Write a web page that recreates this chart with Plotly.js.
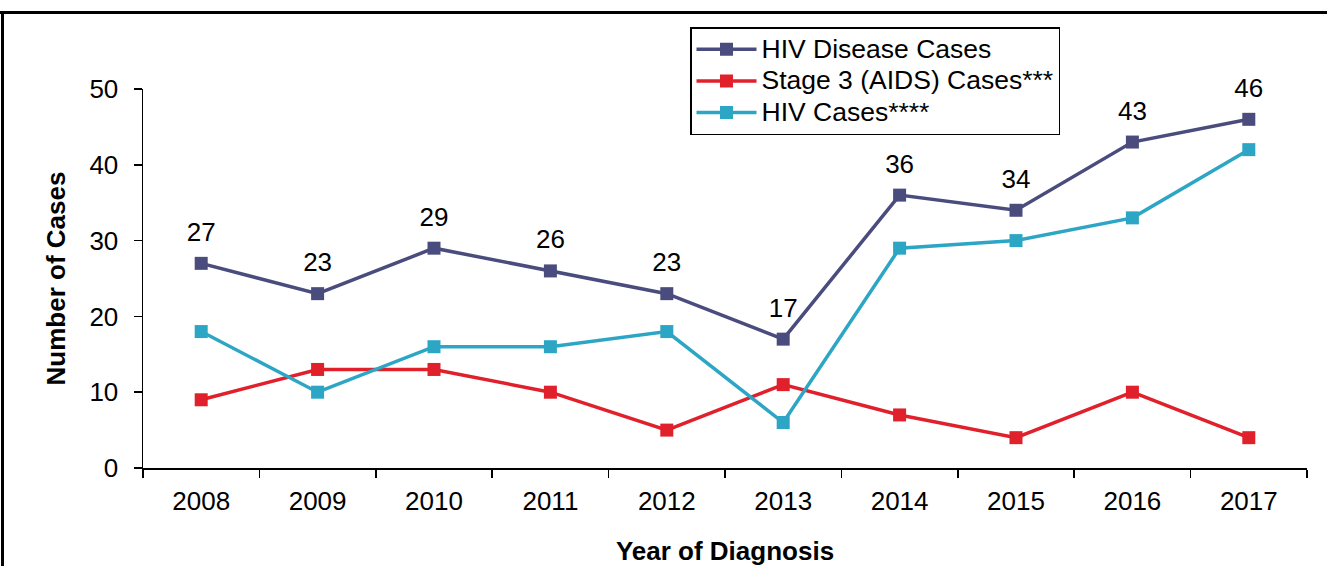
<!DOCTYPE html>
<html>
<head>
<meta charset="utf-8">
<script src="https://cdn.plot.ly/plotly-3.0.1.min.js"></script>
<style>
html,body{margin:0;padding:0;background:#fff;overflow:hidden;}
#wrap{position:relative;width:1327px;height:566px;}
#chart{width:1327px;height:566px;}
.bd{position:absolute;background:#000;pointer-events:none;}
#bt{left:0;top:11px;width:1327px;height:3px;}
#bl{left:1px;top:11px;width:3px;height:555px;}
</style>
</head>
<body>
<div id="wrap">
<div id="chart"></div>
<div class="bd" id="bt"></div>
<div class="bd" id="bl"></div>
</div>
<script>
const years = ['2008','2009','2010','2011','2012','2013','2014','2015','2016','2017'];
const hivDisease = [27, 23, 29, 26, 23, 17, 36, 34, 43, 46];
const stage3 = [9, 13, 13, 10, 5, 11, 7, 4, 10, 4];
const hivCases = [18, 10, 16, 16, 18, 6, 29, 30, 33, 42];

const seriesNames = ['HIV Disease Cases', 'Stage 3 (AIDS) Cases***', 'HIV Cases****'];
const seriesColors = ['#4a4c7e', '#e0202b', '#2ca6c4'];

const W = 1327, H = 566;
const M = {l: 143, r: 20, t: 89, b: 98};
const PW = W - M.l - M.r, PH = H - M.t - M.b;
const px = x => (x - M.l) / PW;
const py = y => (H - M.b - y) / PH;
const FONT = 'Liberation Sans, Arial, sans-serif';

function trace(y, i) {
  return {
    x: years, y: y, type: 'scatter', mode: 'lines+markers',
    name: '<span style="font-size:26.5px">' + seriesNames[i] + '</span>',
    line: {color: seriesColors[i], width: 3.5},
    marker: {symbol: 'square', size: 13, color: seriesColors[i]},
    cliponaxis: false,
    hoverinfo: 'x+y'
  };
}

const data = [
  trace(hivDisease, 0),
  trace(stage3, 1),
  trace(hivCases, 2),
  {
    x: years, y: hivDisease, type: 'scatter', mode: 'markers+text',
    text: hivDisease.map(String), textposition: 'top center',
    textfont: {family: FONT, size: 26, color: '#000'},
    marker: {size: 24, opacity: 0, color: seriesColors[0]},
    showlegend: false, cliponaxis: false, hoverinfo: 'skip'
  }
];

const layout = {
  width: W, height: H,
  margin: M,
  paper_bgcolor: '#fff', plot_bgcolor: '#fff',
  font: {family: FONT, size: 26, color: '#000'},
  showlegend: true,
  legend: {
    x: px(690), y: py(27), xanchor: 'left', yanchor: 'top',
    bordercolor: '#000', borderwidth: 1.5, bgcolor: '#fff',
    font: {size: 22, color: '#000'},
    tracegroupgap: 0, itemwidth: 60
  },
  xaxis: {
    type: 'category', tickson: 'boundaries', range: [-0.5, 9.5],
    showline: true, linecolor: '#000', linewidth: 1.5,
    ticks: 'outside', ticklen: 8, tickwidth: 1.5, tickcolor: '#000',
    ticklabelstandoff: 9,
    showgrid: false, zeroline: false,
    tickfont: {size: 26},
    title: {text: '<b>Year of Diagnosis</b>', font: {size: 26}, standoff: 28},
    automargin: false
  },
  yaxis: {
    range: [0, 50], dtick: 10, tick0: 0,
    showline: true, linecolor: '#000', linewidth: 1.5,
    ticks: 'outside', ticklen: 8, tickwidth: 1.5, tickcolor: '#000',
    ticklabelstandoff: 10,
    showgrid: false, zeroline: false,
    tickfont: {size: 26},
    title: {text: '<b>Number of Cases</b>', font: {size: 26}, standoff: 16},
    automargin: false
  }
};

Plotly.newPlot('chart', data, layout, {displayModeBar: false, staticPlot: true});
</script>
</body>
</html>
